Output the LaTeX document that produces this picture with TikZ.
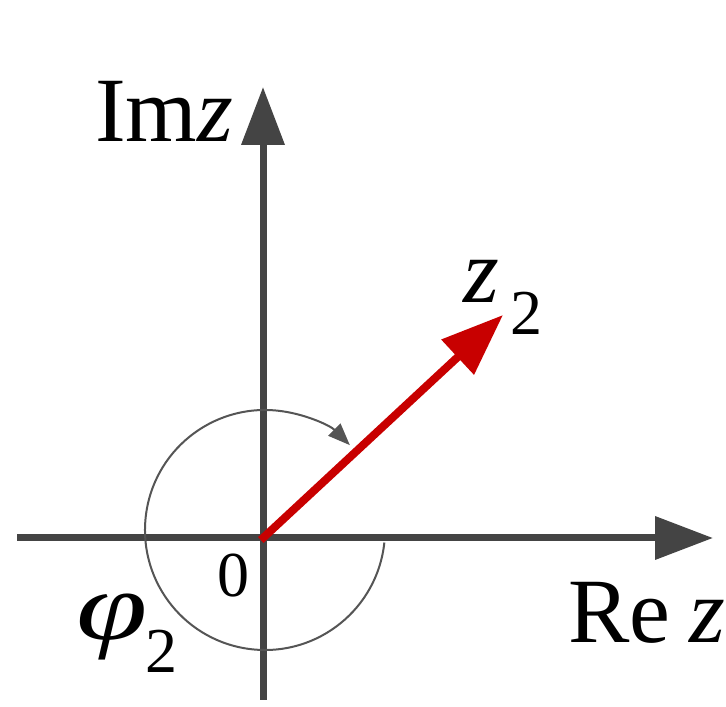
\documentclass[tikz,border=0pt]{standalone}
\usepackage{fontspec}
\setmainfont{Liberation Serif}
\usetikzlibrary{arrows.meta,calc}
\definecolor{axisgray}{RGB}{68,68,68}
\definecolor{arcgray}{RGB}{85,85,85}
\definecolor{vecred}{RGB}{200,0,0}
\tikzset{
  axisline/.style={draw=axisgray, line width=7pt, -{Triangle[length=58pt,width=42pt]}},
  vecline/.style={draw=vecred, line width=8pt, -{Triangle[length=62pt,width=46pt]}},
  arcline/.style={draw=arcgray, line width=2pt, -{Triangle[length=22pt,width=17pt]}},
  lbl/.style={inner sep=0pt, outer sep=0pt, anchor=base west, font=\fontsize{92}{92}\selectfont},
  sublbl/.style={inner sep=0pt, outer sep=0pt, anchor=base west, font=\fontsize{64}{64}\selectfont},
}
\begin{document}
\begin{tikzpicture}[x=1pt,y=1pt]
  \fill[white] (0,0) rectangle (726,707);
  \useasboundingbox (0,0) rectangle (726,707);
  \coordinate (O) at (263,169);
  \coordinate (xl) at (17,169);
  \coordinate (xr) at (713,169);
  \coordinate (yb) at (263,7);
  \coordinate (yt) at (263,620);
  \coordinate (Z) at (503,392);
  \coordinate (C) at (265,177);
  % axes
  \draw[axisline] (xl) -- (xr);
  \draw[axisline] (yb) -- (yt);
  % angle arc
  \draw[arcline] ($(C)+(-6:120)$) arc[start angle=-6, end angle=-315, radius=120];
  % vector
  \draw[vecline, shorten <=-3pt] (O) -- (Z);
  % labels
  \node[lbl] (imz) at (95,565) {Im\textit{z}};
  \node[lbl] (rez) at (568,64) {Re\hspace{19pt}\textit{z}};
  \node[sublbl] (zero) at (217,110) {0};
  \node[lbl] (z2) at (463,404) {\textit{z}};
  \node[sublbl] (z2s) at (510,372) {2};
  \node[lbl] (phi) at (76,67) {\scalebox{1.4}[1.05]{\textit{φ}}};
  \node[sublbl] (phis) at (145,34) {2};
\end{tikzpicture}
\end{document}
